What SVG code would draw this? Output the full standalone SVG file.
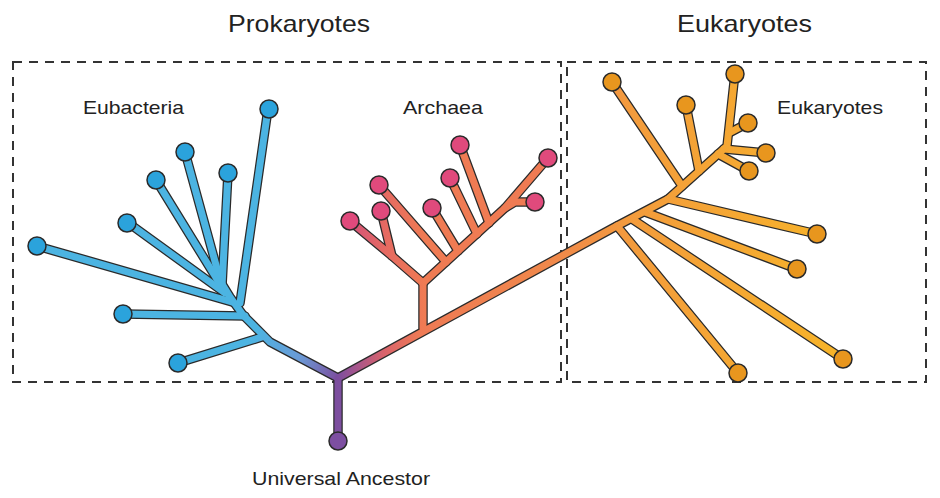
<svg xmlns="http://www.w3.org/2000/svg" xmlns:xlink="http://www.w3.org/1999/xlink" width="940" height="498" viewBox="0 0 940 498">
<style>
text{font-family:"Liberation Sans",Arial,sans-serif;fill:#222}
.title{font-size:24px}
.label{font-size:19px}
.box{fill:none;stroke:#333;stroke-width:2;stroke-dasharray:9 7}
.ol{fill:none;stroke:#2a2a2a;stroke-width:9.5;stroke-linejoin:round;stroke-linecap:round}
.fl{fill:none;stroke-width:7;stroke-linejoin:round;stroke-linecap:round}
.blue{stroke:url(#gBlue)}
.arch{stroke:url(#gArch)}
.main{stroke:url(#gMain)}
.trunk{stroke:#7d4f9f}
.n{stroke:#2a2a2a;stroke-width:1.5}
.nb{fill:#2ba3dc}
.np{fill:#e04a7c}
.ng{fill:#e8961e}
.nv{fill:#7d4fa1}
</style>
<defs>
<linearGradient id="gBlue" gradientUnits="userSpaceOnUse" x1="338" y1="378" x2="255" y2="330">
<stop offset="0" stop-color="#7b4e9e"/>
<stop offset="0.45" stop-color="#6a9ad6"/>
<stop offset="1" stop-color="#4cb4e2"/>
</linearGradient>
<linearGradient id="gArch" gradientUnits="userSpaceOnUse" x1="345" y1="0" x2="425" y2="0">
<stop offset="0" stop-color="#d24f7c"/>
<stop offset="0.5" stop-color="#e56a62"/>
<stop offset="1" stop-color="#ef7b53"/>
</linearGradient>
<linearGradient id="gMain" gradientUnits="userSpaceOnUse" x1="338" y1="0" x2="850" y2="0">
<stop offset="0" stop-color="#7b4e9e"/>
<stop offset="0.03" stop-color="#a0548f"/>
<stop offset="0.09" stop-color="#d9636b"/>
<stop offset="0.16" stop-color="#ee7a55"/>
<stop offset="0.43" stop-color="#f0894a"/>
<stop offset="0.58" stop-color="#f39c3c"/>
<stop offset="1" stop-color="#f7b528"/>
</linearGradient>
<path id="pTrunk" d="M338,442 L338,378"/>
<path id="pB0" d="M338,378 L270,342 L243,315 L230,297 L222,284"/>
<path id="pB1" d="M262,337 L178,363"/>
<path id="pB2" d="M245,316 L123,314"/>
<path id="pB3" d="M240,303 L268,109"/>
<path id="pB4" d="M232,302 L37,246"/>
<path id="pB5" d="M222,286 L228,173"/>
<path id="pB6" d="M222,287 L185,152"/>
<path id="pB7" d="M223,289 L156,180"/>
<path id="pB8" d="M225,293 L127,222"/>
<path id="pA0" d="M423,328 L423,283"/>
<path id="pA1" d="M423,283 L392,256 L350,221"/>
<path id="pA2" d="M392,256 L381,211"/>
<path id="pA3" d="M423,283 L505,208 L548,158"/>
<path id="pA4" d="M446,262 L379,185"/>
<path id="pA5" d="M458,251 L432,208"/>
<path id="pA6" d="M477,234 L450,178"/>
<path id="pA7" d="M489,223 L460,145"/>
<path id="pA8" d="M505,208 L515,202 L535,202"/>
<path id="pM" d="M338,378 L613,228 L668,199 L727,146 L735,73"/>
<path id="pE1" d="M617,226 L738,373"/>
<path id="pE2" d="M632,219 L843,359"/>
<path id="pE3" d="M645,212 L797,269"/>
<path id="pE4" d="M668,199 L817,234"/>
<path id="pE5" d="M682,186 L612,82"/>
<path id="pE6" d="M699,171 L686,105"/>
<path id="pE7" d="M718,154 L749,171"/>
<path id="pE8" d="M724,149 L766,153"/>
<path id="pE9" d="M729,133 L748,123"/>
</defs>
<g id="boxes">
<rect class="box" x="13" y="62" width="548" height="320"/>
<rect class="box" x="567" y="62" width="359" height="320"/>
</g>
<g id="connectors">
<g id="outlines" class="ol">
<use xlink:href="#pTrunk"/><use xlink:href="#pB0"/><use xlink:href="#pB1"/><use xlink:href="#pB2"/><use xlink:href="#pB3"/><use xlink:href="#pB4"/><use xlink:href="#pB5"/><use xlink:href="#pB6"/><use xlink:href="#pB7"/><use xlink:href="#pB8"/>
<use xlink:href="#pA0"/><use xlink:href="#pA1"/><use xlink:href="#pA2"/><use xlink:href="#pA3"/><use xlink:href="#pA4"/><use xlink:href="#pA5"/><use xlink:href="#pA6"/><use xlink:href="#pA7"/><use xlink:href="#pA8"/>
<use xlink:href="#pM"/><use xlink:href="#pE1"/><use xlink:href="#pE2"/><use xlink:href="#pE3"/><use xlink:href="#pE4"/><use xlink:href="#pE5"/><use xlink:href="#pE6"/><use xlink:href="#pE7"/><use xlink:href="#pE8"/><use xlink:href="#pE9"/>
</g>
<g id="fills" class="fl">
<use class="trunk" xlink:href="#pTrunk"/>
<g class="blue"><use xlink:href="#pB1"/><use xlink:href="#pB2"/><use xlink:href="#pB3"/><use xlink:href="#pB4"/><use xlink:href="#pB5"/><use xlink:href="#pB6"/><use xlink:href="#pB7"/><use xlink:href="#pB8"/><use xlink:href="#pB0"/></g>
<g class="main"><use xlink:href="#pE1"/><use xlink:href="#pE2"/><use xlink:href="#pE3"/><use xlink:href="#pE4"/><use xlink:href="#pE5"/><use xlink:href="#pE6"/><use xlink:href="#pE7"/><use xlink:href="#pE8"/><use xlink:href="#pE9"/><use xlink:href="#pM"/></g>
<g class="arch"><use xlink:href="#pA1"/><use xlink:href="#pA2"/><use xlink:href="#pA3"/><use xlink:href="#pA4"/><use xlink:href="#pA5"/><use xlink:href="#pA6"/><use xlink:href="#pA7"/><use xlink:href="#pA8"/><use xlink:href="#pA0"/></g>
</g>
</g>
<g id="node-ancestor"><circle class="n nv" cx="338" cy="441" r="9"/></g>
<g id="node-b1"><circle class="n nb" cx="178" cy="363" r="9"/></g>
<g id="node-b2"><circle class="n nb" cx="123" cy="314" r="9"/></g>
<g id="node-b3"><circle class="n nb" cx="269" cy="109" r="9"/></g>
<g id="node-b4"><circle class="n nb" cx="37" cy="246" r="9"/></g>
<g id="node-b5"><circle class="n nb" cx="228" cy="173" r="9"/></g>
<g id="node-b6"><circle class="n nb" cx="185" cy="152" r="9"/></g>
<g id="node-b7"><circle class="n nb" cx="156" cy="180" r="9"/></g>
<g id="node-b8"><circle class="n nb" cx="127" cy="223" r="9"/></g>
<g id="node-a1"><circle class="n np" cx="350" cy="221" r="9"/></g>
<g id="node-a2"><circle class="n np" cx="381" cy="211" r="9"/></g>
<g id="node-a3"><circle class="n np" cx="548" cy="158" r="9"/></g>
<g id="node-a4"><circle class="n np" cx="379" cy="185" r="9"/></g>
<g id="node-a5"><circle class="n np" cx="432" cy="208" r="9"/></g>
<g id="node-a6"><circle class="n np" cx="450" cy="178" r="9"/></g>
<g id="node-a7"><circle class="n np" cx="460" cy="145" r="9"/></g>
<g id="node-a8"><circle class="n np" cx="535" cy="202" r="9"/></g>
<g id="node-e0"><circle class="n ng" cx="735" cy="74" r="9"/></g>
<g id="node-e1"><circle class="n ng" cx="738" cy="373" r="9"/></g>
<g id="node-e2"><circle class="n ng" cx="843" cy="359" r="9"/></g>
<g id="node-e3"><circle class="n ng" cx="797" cy="269" r="9"/></g>
<g id="node-e4"><circle class="n ng" cx="817" cy="234" r="9"/></g>
<g id="node-e5"><circle class="n ng" cx="612" cy="82" r="9"/></g>
<g id="node-e6"><circle class="n ng" cx="686" cy="105" r="9"/></g>
<g id="node-e7"><circle class="n ng" cx="749" cy="171" r="9"/></g>
<g id="node-e8"><circle class="n ng" cx="766" cy="153" r="9"/></g>
<g id="node-e9"><circle class="n ng" cx="748" cy="123" r="9"/></g>
<g id="labels">
<text class="title" x="228" y="32" textLength="142" lengthAdjust="spacingAndGlyphs">Prokaryotes</text>
<text class="title" x="677" y="32" textLength="135" lengthAdjust="spacingAndGlyphs">Eukaryotes</text>
<text class="label" x="83" y="114" textLength="101" lengthAdjust="spacingAndGlyphs">Eubacteria</text>
<text class="label" x="403" y="114" textLength="80" lengthAdjust="spacingAndGlyphs">Archaea</text>
<text class="label" x="777" y="114" textLength="106" lengthAdjust="spacingAndGlyphs">Eukaryotes</text>
<text class="label" x="252" y="485" textLength="178" lengthAdjust="spacingAndGlyphs">Universal Ancestor</text>
</g>
</svg>
